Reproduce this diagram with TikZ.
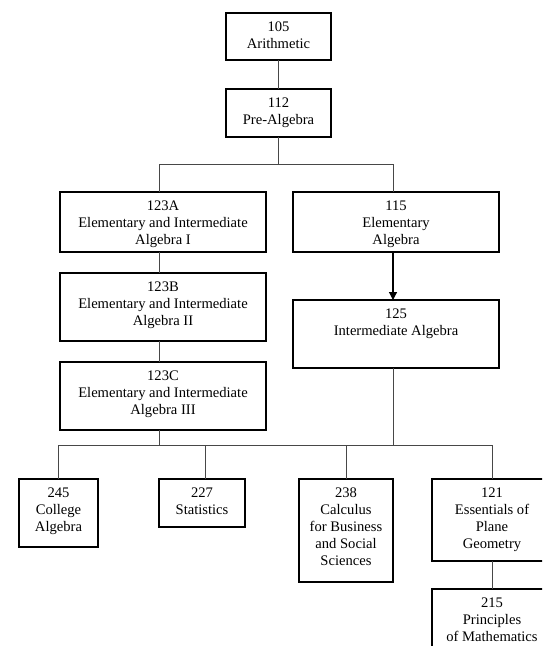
\documentclass[tikz,border=0pt]{standalone}
\usepackage{fontspec}
\setmainfont{Liberation Serif}
\usetikzlibrary{arrows.meta}
\newcommand\crsbox[6]{%
  \node[box,anchor=north west,minimum width={#4-#2},minimum height={#5-#3}] (#1) at (#2,#3) {};
  \node[txt] (#1t) at (#1.north) {#6};}
\begin{document}
\begin{tikzpicture}[x=1pt,y=-1pt,
  box/.style={draw=black,line width=1.3pt,inner sep=0pt,outer sep=0pt},
  txt/.style={anchor=north,align=center,inner sep=0pt,yshift=-9pt,font=\fontsize{14.6}{17}\selectfont},
  conn/.style={draw=black!72,line width=1pt},
  arr/.style={draw=black,line width=1.2pt,-{Triangle[width=8pt,length=8pt]}}]
\useasboundingbox (0,0) rectangle (542,646);
\clip (0,0) rectangle (542,646);
\crsbox{n105}{226}{13}{331}{60}{105\\Arithmetic}
\crsbox{n112}{226}{89}{331}{137}{112\\Pre-Algebra}
\crsbox{n123A}{60}{192}{266}{252}{123A\\Elementary and Intermediate\\Algebra I}
\crsbox{n115}{293}{192}{499}{252}{115\\Elementary\\Algebra}
\crsbox{n123B}{60}{273}{266}{341}{123B\\Elementary and Intermediate\\Algebra II}
\crsbox{n125}{293}{300}{499}{368}{125\\Intermediate Algebra}
\crsbox{n123C}{60}{362}{266}{430}{123C\\Elementary and Intermediate\\Algebra III}
\crsbox{n245}{19}{479}{98}{547}{245\\College\\Algebra}
\crsbox{n227}{159}{479}{245}{527}{227\\Statistics}
\crsbox{n238}{299}{479}{393}{582}{238\\Calculus\\for Business\\and Social\\Sciences}
\crsbox{n121}{432}{479}{552}{561}{121\\Essentials of\\Plane\\Geometry}
\crsbox{n215}{432}{589}{552}{670}{215\\Principles\\of Mathematics}
\coordinate (cL) at (159,0);
\coordinate (cR) at (393,0);
\coordinate (c227) at (205,0);
\coordinate (b1) at (0,164);
\coordinate (b2) at (0,445);
\draw[conn] (n105.south) -- (n112.north);
\draw[conn] (n112.south) -- (n112.south |- b1);
\draw[conn] (cL |- n123A.north) |- (cR |- b1) -- (cR |- n115.north);
\draw[conn] (cL |- n123A.south) -- (cL |- n123B.north);
\draw[conn] (cL |- n123B.south) -- (cL |- n123C.north);
\draw[arr] (cR |- n115.south) -- (cR |- n125.north);
\draw[conn] (cL |- n123C.south) -- (cL |- b2);
\draw[conn] (cR |- n125.south) -- (cR |- b2);
\draw[conn] (n245.north) |- (n121.north |- b2) -- (n121.north);
\draw[conn] (c227 |- n227.north) -- (c227 |- b2);
\draw[conn] (n238.north) -- (n238.north |- b2);
\draw[conn] (n121.south) -- (n215.north);
\end{tikzpicture}
\end{document}
